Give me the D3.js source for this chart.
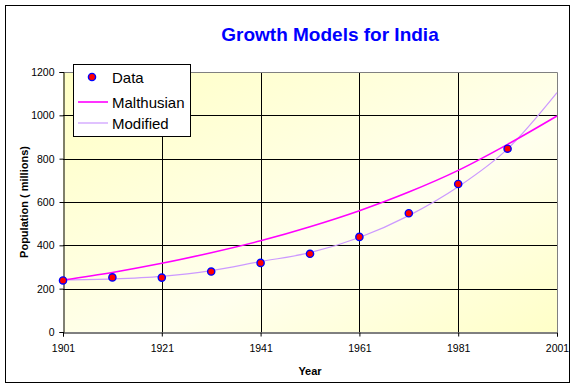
<!DOCTYPE html>
<html><head><meta charset="utf-8">
<script src="https://cdn.jsdelivr.net/npm/d3@7"></script>
<style>body{margin:0;background:#fff}svg{display:block}text{font-family:Arial,"Liberation Sans",sans-serif}</style>
</head><body>
<svg id="c" width="576" height="389"></svg>
<script>
const years = [1901,1911,1921,1931,1941,1951,1961,1971,1981,1991,2001];
const dataYears = [1901,1911,1921,1931,1941,1951,1961,1971,1981,1991];
const dataValues = [238,252,251,279,319,361,439,548,683,846];
const malthusian = [240,275,317,366,421,486,560,646,746,866,997];
const modified = [240,245,257,283,325,366,436,537,670,845,1105];
const xTicks = [1901,1921,1941,1961,1981,2001];
const yTicks = [0,200,400,600,800,1000,1200];
const seriesNames = ["Data","Malthusian","Modified"];

const svg = d3.select("#c");
const L=63, R=557, T=72, B=332;
const x = d3.scaleLinear().domain([1901,2001]).range([L,R]);
const y = d3.scaleLinear().domain([0,1200]).range([B,T]);

// outer border
svg.append("rect").attr("x",5.5).attr("y",5.5).attr("width",564).attr("height",377)
  .attr("fill","#fff").attr("stroke","#000").attr("stroke-width",1);

const defs = svg.append("defs");
const g = defs.append("linearGradient").attr("id","bg").attr("x1","0").attr("y1","0").attr("x2","1").attr("y2","1");
g.append("stop").attr("offset","0").attr("stop-color","#FFFFC4");
g.append("stop").attr("offset","0.6").attr("stop-color","#FFFFEE");
g.append("stop").attr("offset","1").attr("stop-color","#FFFFC8");

svg.append("rect").attr("x",L).attr("y",T).attr("width",R-L).attr("height",B-T).attr("fill","url(#bg)");

// grid
svg.append("g").selectAll("line").data(yTicks.filter(d=>d>0 && d<1200)).join("line")
  .attr("x1",L).attr("x2",R).attr("y1",d=>Math.round(y(d))+0.5).attr("y2",d=>Math.round(y(d))+0.5)
  .attr("stroke","#000");
svg.append("g").selectAll("line").data(xTicks.filter(d=>d>1901 && d<2001)).join("line")
  .attr("y1",T).attr("y2",B).attr("x1",d=>Math.round(x(d))+0.5).attr("x2",d=>Math.round(x(d))+0.5)
  .attr("stroke","#000");
// plot border top/right grey
svg.append("path").attr("d",`M${L},${T+0.5}H${R+0.5}V${B}`).attr("fill","none").attr("stroke","#808080");

// axes
const yAxis = d3.axisLeft(y).tickValues(yTicks).tickSize(4).tickPadding(5).tickFormat(d3.format("d"));
const ya = svg.append("g").attr("transform",`translate(${L+0.5},0)`).call(yAxis);
const xAxis = d3.axisBottom(x).tickValues(xTicks).tickSize(4).tickPadding(8).tickFormat(d3.format("d"));
const xa = svg.append("g").attr("transform",`translate(0,${B+0.5})`).call(xAxis);
[ya,xa].forEach(a=>{
  a.select(".domain").attr("stroke","#000");
  a.selectAll(".tick line").attr("stroke","#000");
  a.selectAll("text").attr("font-size","10.5px").attr("fill","#000").attr("font-family","Arial, 'Liberation Sans', sans-serif");
});

// lines
const line = d3.line().x((d,i)=>x(years[i])).y(d=>y(d)).curve(d3.curveMonotoneX);
svg.append("path").datum(modified).attr("d",line).attr("fill","none").attr("stroke","#CC99FF").attr("stroke-width",1.2);
svg.append("path").datum(malthusian).attr("d",line).attr("fill","none").attr("stroke","#FF00FF").attr("stroke-width",1.6);

// data points
svg.append("g").selectAll("circle").data(dataValues).join("circle")
  .attr("cx",(d,i)=>x(dataYears[i])).attr("cy",d=>y(d)).attr("r",3.6)
  .attr("fill","#FF0000").attr("stroke","#0000FF").attr("stroke-width",1.4);

// title
svg.append("text").attr("x",330).attr("y",41).attr("text-anchor","middle")
  .attr("font-size","19px").attr("font-weight","bold").attr("fill","#0000FF").text("Growth Models for India");
// axis titles
svg.append("text").attr("x",(L+R)/2).attr("y",375).attr("text-anchor","middle")
  .attr("font-size","11px").attr("font-weight","bold").text("Year");
svg.append("text").attr("transform",`translate(28,${(T+B)/2}) rotate(-90)`).attr("text-anchor","middle")
  .attr("font-size","11px").attr("font-weight","bold").text("Population ( millions)");

// legend
const lg = svg.append("g");
lg.append("rect").attr("x",73.5).attr("y",64.5).attr("width",117).attr("height",72).attr("fill","#fff").attr("stroke","#000");
const ly = [77,102,123];
lg.append("circle").attr("cx",92).attr("cy",ly[0]).attr("r",3.6).attr("fill","#FF0000").attr("stroke","#0000FF").attr("stroke-width",1.4);
lg.append("line").attr("x1",78).attr("x2",108).attr("y1",ly[1]).attr("y2",ly[1]).attr("stroke","#FF00FF").attr("stroke-width",1.6);
lg.append("line").attr("x1",78).attr("x2",108).attr("y1",ly[2]).attr("y2",ly[2]).attr("stroke","#CC99FF").attr("stroke-width",1.2);
lg.selectAll("text.lt").data(seriesNames).join("text").attr("class","lt")
  .attr("x",112).attr("y",(d,i)=>ly[i]+5.5).attr("font-size","15px").attr("fill","#000").text(d=>d);
</script>
</body></html>
